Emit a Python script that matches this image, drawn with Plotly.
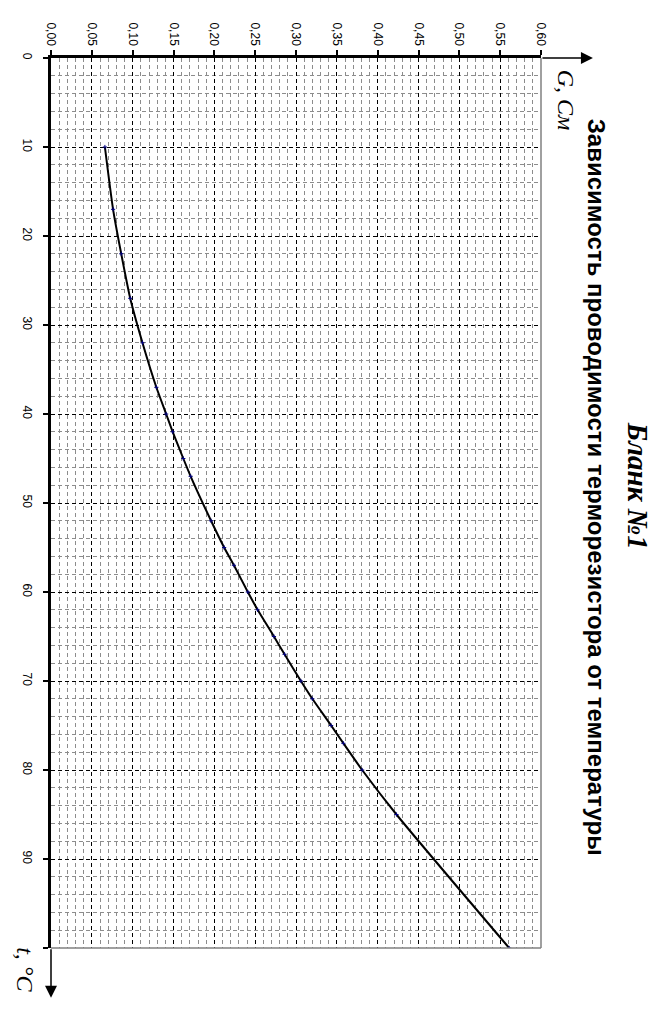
import plotly.graph_objects as go

# temperature, deg C
t_vals = [10, 17, 22, 27, 32, 37, 40, 42, 45, 47, 52, 55, 57, 60, 62, 65, 67, 70, 72, 75, 77, 80, 85, 100]
# conductance, S
g_vals = [0.066, 0.076, 0.086, 0.097, 0.112, 0.129, 0.141, 0.149, 0.162, 0.171, 0.196, 0.212,
          0.224, 0.241, 0.253, 0.273, 0.286, 0.306, 0.320, 0.343, 0.358, 0.381, 0.423, 0.561]

# t axis ticks; 100 has a tick but no label (the axis name sits there)
t_ticks = [0, 10, 20, 30, 40, 50, 60, 70, 80, 90, 100]
t_ticktext = ["0", "10", "20", "30", "40", "50", "60", "70", "80", "90", ""]

title_main = "Бланк №1"
title_sub = "Зависимость проводимости терморезистора от температуры"
g_label = "G, См"
t_label = "t, °C"

# page body has an 8px margin, so everything is placed 8px up/left
OFF = 8
W, H = 657 - OFF, 1026 - OFF
L, R, T, B = 50.5 - OFF, 541 - OFF, 58.3 - OFF, 948.3 - OFF

fig = go.Figure()
fig.add_trace(go.Scatter(
    x=g_vals, y=t_vals, mode="lines+markers",
    line=dict(color="black", width=2, shape="spline", smoothing=0.6),
    marker=dict(symbol="cross-thin", size=3, line=dict(color="#000080", width=1), color="#000080"),
    showlegend=False, hoverinfo="skip",
))

tick_font = dict(family="Liberation Sans, Arial", size=12, color="black")

fig.update_xaxes(
    side="top", range=[0, 0.6], dtick=0.05, tick0=0, tickformat=".2f",
    tickangle=90, tickfont=tick_font,
    ticks="outside", ticklen=5, tickwidth=2, tickcolor="black",
    showline=True, linewidth=3, linecolor="black",
    showgrid=True, gridcolor="black", gridwidth=1, griddash="4px,3px",
    minor=dict(dtick=0.01, showgrid=True, gridcolor="#8c8c8c", gridwidth=1, griddash="4px,3px"),
    zeroline=False, fixedrange=True,
)
fig.update_yaxes(
    range=[100, 0], tickmode="array", tickvals=t_ticks, ticktext=t_ticktext,
    tickangle=90, tickfont=tick_font, ticklabelstandoff=6,
    ticks="outside", ticklen=5, tickwidth=2, tickcolor="black",
    showline=True, linewidth=3, linecolor="black",
    showgrid=True, gridcolor="black", gridwidth=1, griddash="4px,3px",
    minor=dict(dtick=2, tick0=0, showgrid=True, gridcolor="#8c8c8c", gridwidth=1, griddash="4px,3px"),
    zeroline=False, fixedrange=True,
)

pw, ph = R - L, B - T

def px(xp):
    return (xp - OFF - L) / pw

def py(yp):
    return (B - (yp - OFF)) / ph

# gray right/bottom frame
fig.add_shape(type="line", xref="paper", yref="paper", x0=1, x1=1, y0=0, y1=1,
              line=dict(color="#808080", width=1.5))
fig.add_shape(type="line", xref="paper", yref="paper", x0=0, x1=1, y0=0, y1=0,
              line=dict(color="#808080", width=1.5))

# axis arrows
fig.add_annotation(xref="paper", yref="paper", x=px(593), y=1, ax=-(593 - 541), ay=0,
                   text="", showarrow=True, arrowhead=2, arrowsize=1.6, arrowwidth=1.5, arrowcolor="black")
fig.add_annotation(xref="paper", yref="paper", x=0, y=py(998), ax=0, ay=-(998 - 948),
                   text="", showarrow=True, arrowhead=2, arrowsize=1.6, arrowwidth=1.5, arrowcolor="black")

serif = "Liberation Serif, Times New Roman"

def label(x, y, text, font):
    fig.add_annotation(xref="paper", yref="paper", x=px(x), y=py(y), text=text, textangle=90,
                       xanchor="center", yanchor="middle", showarrow=False, font=font)

# axis labels
label(566, 101, g_label, dict(family=serif, size=24, color="black", style="italic"))
label(25, 970, t_label, dict(family=serif, size=24, color="black", style="italic"))

# titles
label(638, 486, "<b>" + title_main + "</b>", dict(family=serif, size=29, color="black", style="italic"))
label(596, 488, "<b>" + title_sub + "</b>", dict(family="Liberation Sans, Arial", size=24, color="black"))

fig.update_layout(
    width=W, height=H,
    margin=dict(l=L, r=W - R, t=T, b=H - B, pad=0),
    paper_bgcolor="white", plot_bgcolor="white",
    separators=", ",
    showlegend=False,
)

fig.write_html("out.html")
